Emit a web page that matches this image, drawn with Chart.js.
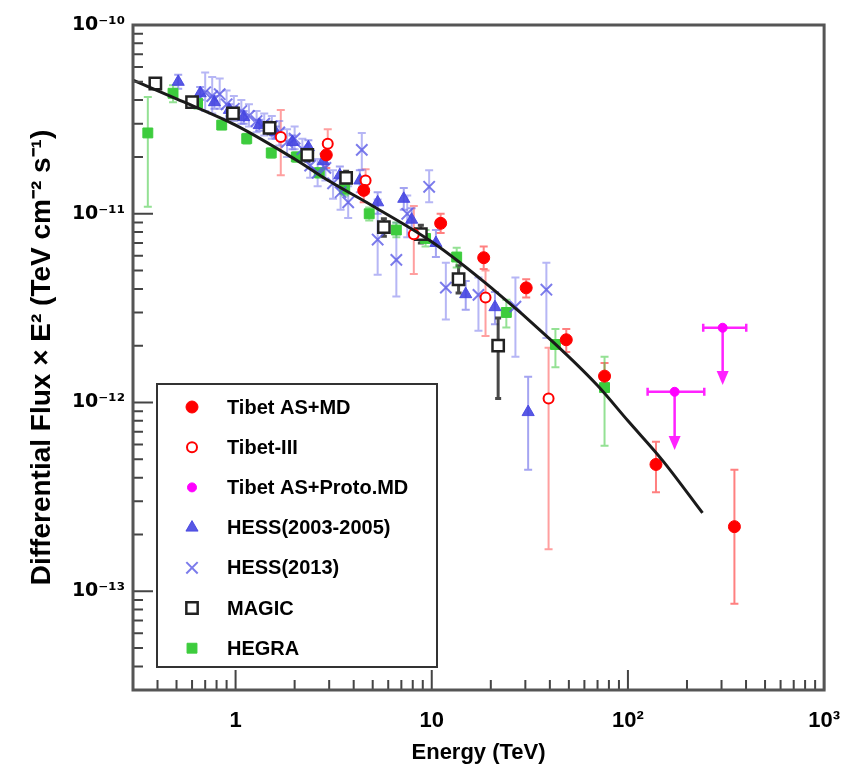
<!DOCTYPE html>
<html>
<head>
<meta charset="utf-8">
<script src="https://cdn.jsdelivr.net/npm/chart.js"></script>
<style>
  html, body { margin: 0; padding: 0; background: #fff; }
  #wrap { width: 858px; height: 770px; }
</style>
</head>
<body>
<div id="wrap"><canvas id="myChart" width="858" height="770"></canvas></div>
<script>
// energy in TeV, flux x E^2 in TeV cm^-2 s^-1
// rows: [E, F, F low, F high]
const tibetMD = [
  [2.9, 2.05e-11, 1.75e-11, 2.4e-11],
  [4.5, 1.33e-11, 1.15e-11, 1.55e-11],
  [11.1, 8.9e-12, 7.9e-12, 1.0e-11],
  [18.4, 5.85e-12, 5.1e-12, 6.7e-12],
  [30.3, 4.05e-12, 3.6e-12, 4.5e-12],
  [48.5, 2.15e-12, 1.85e-12, 2.45e-12],
  [76, 1.38e-12, 1.15e-12, 1.62e-12],
  [139, 4.7e-13, 3.35e-13, 6.2e-13],
  [349, 2.2e-13, 8.6e-14, 4.4e-13]
];
const tibetIII = [
  [1.7, 2.55e-11, 1.6e-11, 3.55e-11],
  [2.95, 2.35e-11, 2.0e-11, 2.8e-11],
  [4.6, 1.5e-11, 1.28e-11, 1.72e-11],
  [8.1, 7.8e-12, 4.8e-12, 1.1e-11],
  [18.8, 3.6e-12, 2.25e-12, 5.0e-12],
  [39.4, 1.05e-12, 1.67e-13, 1.95e-12]
];
// rows: [E, F upper limit, E low, E high, arrow end]
const protoMD = [
  [173, 1.14e-12, 126, 245, 5.6e-13],
  [304, 2.49e-12, 242, 401, 1.24e-12]
];
const hess2005 = [
  [0.51, 5.0e-11, 4.6e-11, 5.45e-11],
  [0.66, 4.35e-11, 4.0e-11, 4.7e-11],
  [0.78, 3.9e-11, 3.6e-11, 4.2e-11],
  [0.93, 3.55e-11, 3.3e-11, 3.8e-11],
  [1.1, 3.25e-11, 3.0e-11, 3.5e-11],
  [1.32, 2.95e-11, 2.75e-11, 3.15e-11],
  [1.6, 2.7e-11, 2.5e-11, 2.9e-11],
  [1.95, 2.4e-11, 2.2e-11, 2.6e-11],
  [2.35, 2.25e-11, 2.05e-11, 2.45e-11],
  [2.8, 1.9e-11, 1.72e-11, 2.08e-11],
  [3.4, 1.6e-11, 1.42e-11, 1.78e-11],
  [4.3, 1.5e-11, 1.3e-11, 1.7e-11],
  [5.3, 1.15e-11, 1.0e-11, 1.3e-11],
  [7.2, 1.2e-11, 1.05e-11, 1.37e-11],
  [7.9, 9.3e-12, 7.9e-12, 1.07e-11],
  [10.5, 7.0e-12, 5.9e-12, 8.2e-12],
  [14.9, 3.75e-12, 3.1e-12, 4.4e-12],
  [21, 3.2e-12, 2.6e-12, 3.85e-12],
  [31, 8.9e-13, 4.4e-13, 1.37e-12]
];
const hess2013 = [
  [0.70, 4.4e-11, 3.5e-11, 5.6e-11],
  [0.76, 4.2e-11, 3.4e-11, 5.3e-11],
  [0.83, 4.3e-11, 3.6e-11, 5.2e-11],
  [0.90, 3.8e-11, 3.2e-11, 4.5e-11],
  [0.98, 3.6e-11, 3.1e-11, 4.2e-11],
  [1.07, 3.5e-11, 3.0e-11, 4.0e-11],
  [1.17, 3.3e-11, 2.9e-11, 3.8e-11],
  [1.28, 3.1e-11, 2.7e-11, 3.5e-11],
  [1.40, 3.0e-11, 2.6e-11, 3.4e-11],
  [1.53, 2.9e-11, 2.5e-11, 3.3e-11],
  [1.67, 2.7e-11, 2.3e-11, 3.1e-11],
  [1.83, 2.4e-11, 2.0e-11, 2.8e-11],
  [2.00, 2.5e-11, 2.2e-11, 2.9e-11],
  [2.19, 2.2e-11, 1.9e-11, 2.5e-11],
  [2.40, 1.8e-11, 1.55e-11, 2.1e-11],
  [2.62, 1.65e-11, 1.4e-11, 1.95e-11],
  [2.87, 1.75e-11, 1.5e-11, 2.05e-11],
  [3.14, 1.45e-11, 1.2e-11, 1.7e-11],
  [3.43, 1.3e-11, 1.05e-11, 1.55e-11],
  [3.75, 1.15e-11, 0.95e-11, 1.4e-11],
  [4.4, 2.18e-11, 1.71e-11, 2.68e-11],
  [5.3, 7.3e-12, 4.75e-12, 1.19e-11],
  [6.6, 5.7e-12, 3.64e-12, 8.95e-12],
  [7.5, 1.0e-11, 7.5e-12, 1.25e-11],
  [9.7, 1.39e-11, 1.15e-11, 1.7e-11],
  [11.8, 4.06e-12, 2.75e-12, 5.5e-12],
  [17.3, 3.72e-12, 2.4e-12, 4.6e-12],
  [26.7, 3.22e-12, 1.75e-12, 4.6e-12],
  [38.4, 3.96e-12, 2.2e-12, 5.5e-12]
];
const magic = [
  [0.39, 4.9e-11, 4.6e-11, 5.2e-11],
  [0.60, 3.9e-11, 3.7e-11, 4.1e-11],
  [0.97, 3.4e-11, 3.2e-11, 3.6e-11],
  [1.49, 2.85e-11, 2.65e-11, 3.05e-11],
  [2.32, 2.05e-11, 1.9e-11, 2.2e-11],
  [3.66, 1.55e-11, 1.42e-11, 1.68e-11],
  [5.7, 8.5e-12, 7.6e-12, 9.4e-12],
  [8.8, 7.8e-12, 7.0e-12, 8.7e-12],
  [13.7, 4.5e-12, 3.8e-12, 5.3e-12],
  [21.8, 2.0e-12, 1.05e-12, 2.8e-12]
];
const hegra = [
  [0.357, 2.68e-11, 1.09e-11, 4.16e-11],
  [0.48, 4.35e-11, 3.9e-11, 4.8e-11],
  [0.64, 3.85e-11, 3.6e-11, 4.1e-11],
  [0.85, 2.95e-11, 2.8e-11, 3.1e-11],
  [1.14, 2.5e-11, 2.35e-11, 2.65e-11],
  [1.52, 2.1e-11, 1.98e-11, 2.22e-11],
  [2.04, 2.0e-11, 1.88e-11, 2.12e-11],
  [2.67, 1.65e-11, 1.55e-11, 1.75e-11],
  [3.6, 1.35e-11, 1.25e-11, 1.45e-11],
  [4.8, 1.0e-11, 0.92e-11, 1.08e-11],
  [6.6, 8.2e-12, 7.5e-12, 9.0e-12],
  [9.3, 7.4e-12, 6.7e-12, 8.2e-12],
  [13.4, 5.9e-12, 5.2e-12, 6.6e-12],
  [24, 3.0e-12, 2.5e-12, 3.5e-12],
  [42.7, 2.03e-12, 1.54e-12, 2.45e-12],
  [76, 1.2e-12, 5.9e-13, 1.75e-12]
];
// fitted curve
const fitE = [0.3, 0.5, 1, 2, 3, 5, 10, 20, 42, 70, 100, 150, 240];
const fitF = [5.1e-11, 4.06e-11, 2.95e-11, 1.95e-11, 1.49e-11, 1.1e-11, 7.1e-12, 4.07e-12, 2.07e-12, 1.23e-12, 8.0e-13, 4.94e-13, 2.6e-13];

const xDecades = [0, 1, 2, 3];
const xDecadeLabels = ['1', '10', '10²', '10³'];
const yDecades = [-13, -12, -11, -10];
const yDecadeLabels = ['10⁻¹³', '10⁻¹²', '10⁻¹¹', '10⁻¹⁰'];

const FONT = "'Liberation Sans', Arial, Helvetica, sans-serif";

function withErr(rows) {
  return rows.map(r => ({ x: r[0], y: r[1], yMin: r[2], yMax: r[3] }));
}
function limits(rows) {
  return rows.map(r => ({ x: r[0], y: r[1], xMin: r[2], xMax: r[3], limit: r[4] }));
}
function logTicks(min, max) {
  let out = [];
  for (let e = Math.floor(Math.log10(min)); e <= Math.ceil(Math.log10(max)); e++) {
    for (let m = 1; m <= 9; m++) {
      let v = m * Math.pow(10, e);
      if (v >= min * 0.999 && v <= max * 1.001) out.push({ value: v, major: m === 1 });
    }
  }
  return out;
}
function decadeLabel(value, decades, labels) {
  let l = Math.log10(value);
  if (Math.abs(l - Math.round(l)) > 1e-6) return '';
  let i = decades.indexOf(Math.round(l));
  return i < 0 ? '' : labels[i];
}

// error bars, horizontal bars and upper-limit arrows
const errorBars = {
  id: 'errorBars',
  beforeDatasetsDraw(chart) {
    const ctx = chart.ctx, xs = chart.scales.x, ys = chart.scales.y, a = chart.chartArea;
    ctx.save();
    ctx.beginPath();
    ctx.rect(a.left, a.top, a.right - a.left, a.bottom - a.top);
    ctx.clip();
    chart.data.datasets.forEach(ds => {
      if (!ds.errColor) return;
      ctx.strokeStyle = ds.errColor;
      ctx.fillStyle = ds.errColor;
      ctx.lineWidth = ds.errWidth || 2;
      const cap = ds.capSize || 4;
      ds.data.forEach(p => {
        const px = xs.getPixelForValue(p.x), py = ys.getPixelForValue(p.y);
        ctx.beginPath();
        if (p.yMin !== undefined) {
          const y1 = ys.getPixelForValue(p.yMin), y2 = ys.getPixelForValue(p.yMax);
          ctx.moveTo(px, y1); ctx.lineTo(px, y2);
          ctx.moveTo(px - cap, y1); ctx.lineTo(px + cap, y1);
          ctx.moveTo(px - cap, y2); ctx.lineTo(px + cap, y2);
        }
        if (p.xMin !== undefined) {
          const x1 = xs.getPixelForValue(p.xMin), x2 = xs.getPixelForValue(p.xMax);
          ctx.moveTo(x1, py); ctx.lineTo(x2, py);
          ctx.moveTo(x1, py - cap); ctx.lineTo(x1, py + cap);
          ctx.moveTo(x2, py - cap); ctx.lineTo(x2, py + cap);
        }
        if (p.limit !== undefined) {
          const ye = ys.getPixelForValue(p.limit);
          ctx.moveTo(px, py); ctx.lineTo(px, ye - 10);
        }
        ctx.stroke();
        if (p.limit !== undefined) {
          const ye = ys.getPixelForValue(p.limit);
          ctx.beginPath();
          ctx.moveTo(px - 6, ye - 14);
          ctx.lineTo(px + 6, ye - 14);
          ctx.lineTo(px, ye);
          ctx.closePath();
          ctx.fill();
        }
      });
    });
    ctx.restore();
  }
};

// ROOT-like frame with ticks pointing inwards
const frame = {
  id: 'frame',
  afterDatasetsDraw(chart) {
    const ctx = chart.ctx, a = chart.chartArea, xs = chart.scales.x, ys = chart.scales.y;
    ctx.save();
    ctx.strokeStyle = '#444';
    ctx.lineWidth = 2;
    ctx.beginPath();
    xs.ticks.forEach(t => {
      const px = xs.getPixelForValue(t.value);
      const len = Math.abs(Math.log10(t.value) - Math.round(Math.log10(t.value))) < 1e-6 ? 20 : 10;
      ctx.moveTo(px, a.bottom); ctx.lineTo(px, a.bottom - len);
    });
    ys.ticks.forEach(t => {
      const py = ys.getPixelForValue(t.value);
      const len = Math.abs(Math.log10(t.value) - Math.round(Math.log10(t.value))) < 1e-6 ? 20 : 10;
      ctx.moveTo(a.left, py); ctx.lineTo(a.left + len, py);
    });
    ctx.stroke();
    ctx.lineWidth = 3;
    ctx.strokeStyle = '#555';
    ctx.strokeRect(a.left, a.top, a.right - a.left, a.bottom - a.top);
    ctx.restore();
  }
};

const legendBox = {
  id: 'legendBox',
  afterDraw(chart) {
    const ctx = chart.ctx, a = chart.chartArea;
    const left = a.left + 24, top = a.top + 359, w = 280, h = 283;
    ctx.save();
    ctx.fillStyle = '#fff';
    ctx.fillRect(left, top, w, h);
    ctx.strokeStyle = '#333';
    ctx.lineWidth = 2;
    ctx.strokeRect(left, top, w, h);
    let row = 0;
    chart.data.datasets.forEach(ds => {
      if (!ds.inLegend) return;
      const y = top + 23 + row * 40.2;
      const x = left + 35;
      ctx.fillStyle = ds.backgroundColor;
      ctx.strokeStyle = ds.borderColor;
      ctx.lineWidth = ds.borderWidth;
      const opts = { pointStyle: ds.pointStyle, radius: ds.pointRadius, borderWidth: ds.borderWidth, rotation: 0 };
      if (Chart.helpers && Chart.helpers.drawPoint) {
        Chart.helpers.drawPoint(ctx, opts, x, y);
      } else {
        ctx.beginPath(); ctx.arc(x, y, ds.pointRadius, 0, Math.PI * 2); ctx.fill();
      }
      ctx.fillStyle = '#000';
      ctx.font = 'bold 20px ' + FONT;
      ctx.textBaseline = 'middle';
      ctx.textAlign = 'left';
      ctx.fillText(ds.label, left + 70, y + 1);
      row++;
    });
    ctx.restore();
  }
};

const ctx = document.getElementById('myChart');
new Chart(ctx, {
  type: 'scatter',
  data: {
    datasets: [
      {
        label: 'fit',
        data: fitE.map((e, i) => ({ x: e, y: fitF[i] })),
        showLine: true,
        borderColor: '#1a1a1a',
        backgroundColor: '#1a1a1a',
        borderWidth: 3,
        pointRadius: 0,
        cubicInterpolationMode: 'monotone',
        order: 0
      },
      {
        label: 'Tibet AS+MD', inLegend: true, data: withErr(tibetMD),
        pointStyle: 'circle', pointRadius: 6, borderWidth: 1,
        backgroundColor: '#ff0000', borderColor: '#ff0000',
        errColor: 'rgba(255,60,60,0.65)', errWidth: 2, capSize: 4, order: 2
      },
      {
        label: 'Tibet-III', inLegend: true, data: withErr(tibetIII),
        pointStyle: 'circle', pointRadius: 5, borderWidth: 2,
        backgroundColor: '#ffffff', borderColor: '#ff0000',
        errColor: 'rgba(255,80,80,0.55)', errWidth: 2, capSize: 4, order: 3
      },
      {
        label: 'Tibet AS+Proto.MD', inLegend: true, data: limits(protoMD),
        pointStyle: 'circle', pointRadius: 4.5, borderWidth: 1,
        backgroundColor: '#ff00ff', borderColor: '#ff00ff',
        errColor: '#ff22ff', errWidth: 2.5, capSize: 4, order: 1
      },
      {
        label: 'HESS(2003-2005)', inLegend: true, data: withErr(hess2005),
        pointStyle: 'triangle', pointRadius: 7, borderWidth: 1,
        backgroundColor: 'rgba(70,70,225,0.9)', borderColor: 'rgba(70,70,225,0.9)',
        errColor: 'rgba(90,90,230,0.55)', errWidth: 2, capSize: 4, order: 5
      },
      {
        label: 'HESS(2013)', inLegend: true, data: withErr(hess2013),
        pointStyle: 'crossRot', pointRadius: 8, borderWidth: 2,
        backgroundColor: 'rgba(90,90,230,0.8)', borderColor: 'rgba(90,90,230,0.8)',
        errColor: 'rgba(110,110,235,0.5)', errWidth: 2, capSize: 4, order: 6
      },
      {
        label: 'MAGIC', inLegend: true, data: withErr(magic),
        pointStyle: 'rect', pointRadius: 8, borderWidth: 2.5,
        backgroundColor: '#ffffff', borderColor: '#222222',
        errColor: 'rgba(40,40,40,0.85)', errWidth: 3, capSize: 3, order: 4
      },
      {
        label: 'HEGRA', inLegend: true, data: withErr(hegra),
        pointStyle: 'rect', pointRadius: 7, borderWidth: 1,
        backgroundColor: '#3dcc3d', borderColor: '#3dcc3d',
        errColor: 'rgba(60,200,60,0.55)', errWidth: 2, capSize: 4, order: 7
      }
    ]
  },
  options: {
    responsive: false,
    animation: false,
    devicePixelRatio: 1,
    layout: { padding: { top: 25, right: 28, left: 0, bottom: 0 } },
    scales: {
      x: {
        type: 'logarithmic',
        position: 'bottom',
        min: 0.3,
        max: 1000,
        afterBuildTicks: (scale) => { scale.ticks = logTicks(0.3, 1000); },
        afterFit: (scale) => { scale.height = 80; },
        grid: { display: false, drawTicks: false },
        border: { display: false },
        ticks: {
          autoSkip: false, maxRotation: 0, padding: 18, color: '#000',
          font: { family: FONT, size: 22, weight: 'bold' },
          callback: (v) => decadeLabel(v, xDecades, xDecadeLabels)
        },
        title: {
          display: true, text: 'Energy (TeV)', color: '#000',
          font: { family: FONT, size: 22, weight: 'bold' },
          padding: { top: 0, bottom: 4 }
        }
      },
      y: {
        type: 'logarithmic',
        min: 3e-14,
        max: 1e-10,
        afterBuildTicks: (scale) => { scale.ticks = logTicks(3e-14, 1e-10); },
        afterFit: (scale) => { scale.width = 133; },
        grid: { display: false, drawTicks: false },
        border: { display: false },
        ticks: {
          autoSkip: false, padding: 8, color: '#000',
          font: { family: "'DejaVu Sans', sans-serif", size: 19, weight: 'bold' },
          callback: (v) => decadeLabel(v, yDecades, yDecadeLabels)
        },
        title: {
          display: true, text: 'Differential Flux × E² (TeV cm⁻² s⁻¹)', color: '#000',
          font: { family: FONT, size: 28, weight: 'bold' },
          padding: { top: 25, bottom: 0 }
        }
      }
    },
    plugins: {
      legend: { display: false },
      title: { display: false },
      tooltip: { enabled: false }
    }
  },
  plugins: [errorBars, frame, legendBox]
});
</script>
</body>
</html>
